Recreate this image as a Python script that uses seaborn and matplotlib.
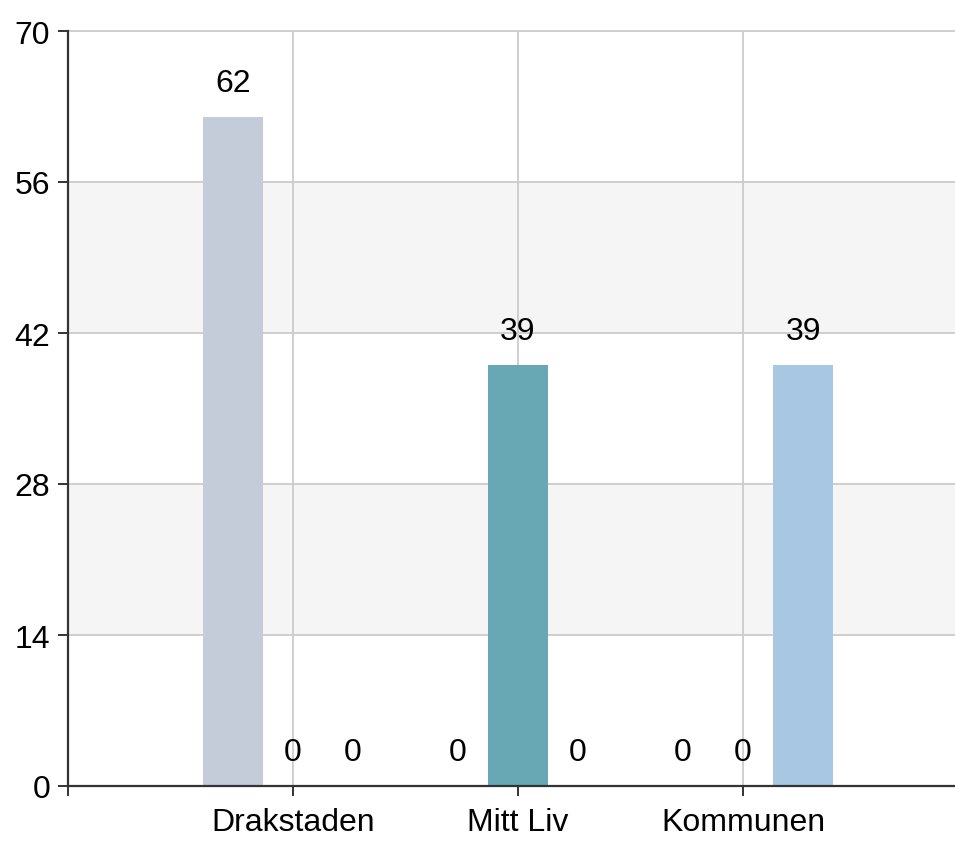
import matplotlib
matplotlib.use("Agg")
import matplotlib.pyplot as plt
import seaborn as sns
import pandas as pd

# Survey groups on the x axis and the three series drawn in each group
categories = ["Drakstaden", "Mitt Liv", "Kommunen"]
series = ["Drakstaden", "Mitt Liv", "Kommunen"]
values = {
    "Drakstaden": [62, 0, 0],
    "Mitt Liv": [0, 39, 0],
    "Kommunen": [0, 0, 39],
}
y_ticks = [0, 14, 28, 42, 56, 70]
colors = ["#C5CCD9", "#68A8B4", "#A7C7E2"]

rows = []
for s in series:
    for c, v in zip(categories, values[s]):
        rows.append({"category": c, "series": s, "value": v})
df = pd.DataFrame(rows)

sns.set_theme(style="white")
plt.rcParams["font.family"] = ["Liberation Sans", "DejaVu Sans"]

fig = plt.figure(figsize=(9.55, 8.45), dpi=100)
ax = fig.add_axes([68 / 955, 58 / 845, 1 - 68 / 955, 755 / 845])

sns.barplot(data=df, x="category", y="value", hue="series", order=categories,
            hue_order=series, palette=colors, width=0.8, saturation=1,
            linewidth=0, legend=False, ax=ax, zorder=3)

# alternating light bands behind the bars
for lo, hi in [(14, 28), (42, 56)]:
    ax.axhspan(lo, hi, color="#F5F5F5", zorder=0, lw=0)

ax.set_ylim(0, 70)
ax.set_xlim(-1, 2.942)
ax.set_yticks(y_ticks)
ax.set_yticklabels([str(t) for t in y_ticks])
ax.set_xticks([-1, 0, 1, 2])
ax.set_xticklabels([""] + categories)
ax.set_xlabel("")
ax.set_ylabel("")

grid_color = "#CCCCCC"
for t in y_ticks[1:]:
    ax.axhline(t, color=grid_color, lw=1.3, zorder=1, clip_on=False)
for x in range(len(categories)):
    ax.axvline(x, color=grid_color, lw=1.3, zorder=1)

for side in ["top", "right"]:
    ax.spines[side].set_visible(False)
for side in ["left", "bottom"]:
    ax.spines[side].set_color("#333333")
    ax.spines[side].set_linewidth(1.6)
    ax.spines[side].set_zorder(4)

ax.tick_params(axis="both", which="major", direction="out", length=7.2,
               width=1.4, color="#333333", labelsize=23, labelcolor="#000000",
               left=True, bottom=True)
ax.tick_params(axis="y", pad=5.5)
ax.tick_params(axis="x", pad=8)

for container in ax.containers:
    ax.bar_label(container, labels=[f"{v:.0f}" for v in container.datavalues],
                 padding=14, fontsize=23, color="#000000", zorder=5)

fig.savefig("out.png", dpi=100, facecolor="white")
